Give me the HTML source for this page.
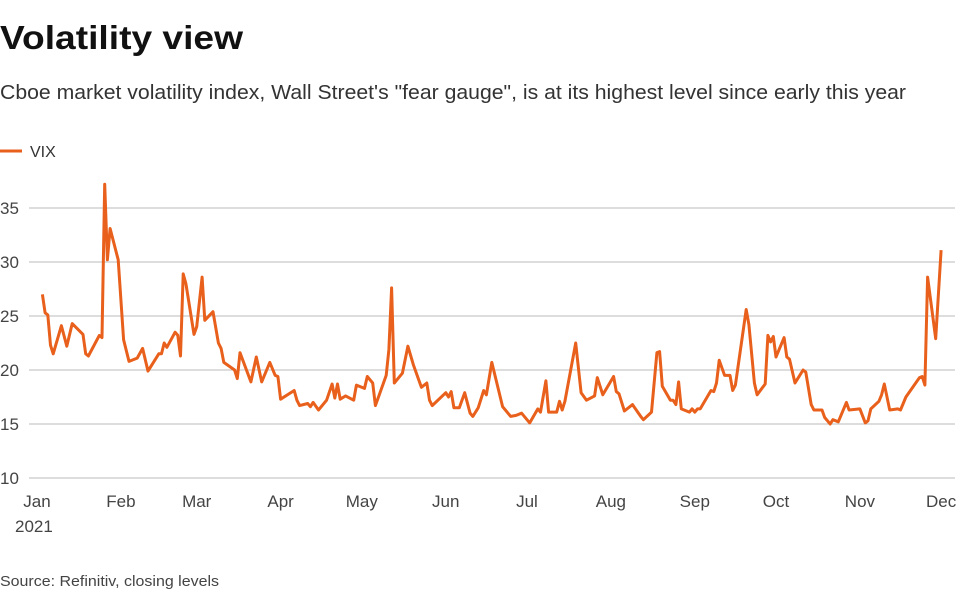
<!DOCTYPE html>
<html><head><meta charset="utf-8"><style>
html,body{margin:0;padding:0;background:#fff;}
svg{display:block;font-family:"Liberation Sans",sans-serif;}
</style></head><body>
<svg id="chart" width="960" height="596" viewBox="0 0 960 596" xmlns="http://www.w3.org/2000/svg">
<text x="0" y="49" font-size="33" font-weight="bold" fill="#111" textLength="243" lengthAdjust="spacingAndGlyphs">Volatility view</text>
<text x="0" y="99" font-size="20" fill="#333" textLength="906" lengthAdjust="spacingAndGlyphs">Cboe market volatility index, Wall Street's "fear gauge", is at its highest level since early this year</text>
<g>
<line x1="0" y1="151" x2="22" y2="151" stroke="#e8601c" stroke-width="3"/>
<text x="30" y="157" font-size="16" fill="#333">VIX</text>
</g>
<g id="grid"></g>
<g id="axes"></g>
<path id="line" fill="none" stroke="#e8601c" stroke-width="3" stroke-linejoin="round"/>
<text x="0" y="586" font-size="15" fill="#444" textLength="219" lengthAdjust="spacingAndGlyphs">Source: Refinitiv, closing levels</text>
</svg>
<script>
const days=[2,3,4,5,6,9,11,13,17,18,19,23,24,25,26,27,30,32,34,37,39,41,45,46,47,48,51,52,53,54,55,58,59,61,62,65,67,68,69,73,74,75,79,81,83,86,88,89,90,95,96,97,100,101,102,104,107,109,110,111,112,114,117,118,121,122,124,125,129,130,131,132,135,137,139,142,144,145,146,151,152,153,154,156,158,160,161,163,165,166,168,172,175,177,179,182,185,186,188,189,192,193,194,195,199,201,203,206,207,209,213,214,215,217,220,223,224,227,229,230,231,234,235,236,237,238,241,242,243,244,245,249,250,251,252,254,256,257,258,262,263,265,266,269,270,271,272,273,276,277,278,280,283,284,286,287,290,291,293,294,296,299,300,304,306,307,308,311,312,313,315,318,319,321,326,327,328,329,332,334];
const values=[27.0,25.3,25.1,22.3,21.5,24.1,22.2,24.3,23.3,21.5,21.3,23.2,23.0,37.2,30.2,33.1,30.2,22.8,20.8,21.1,22.0,19.9,21.5,21.5,22.5,22.1,23.5,23.2,21.3,28.9,28.0,23.3,24.0,28.6,24.6,25.4,22.5,22.0,20.7,20.0,19.2,21.6,18.9,21.2,18.9,20.7,19.5,19.4,17.3,18.1,17.2,16.7,16.9,16.6,17.0,16.3,17.2,18.7,17.4,18.7,17.3,17.6,17.2,18.6,18.3,19.4,18.8,16.7,19.5,21.9,27.6,18.8,19.7,22.2,20.5,18.4,18.8,17.2,16.7,17.9,17.5,18.0,16.5,16.5,17.9,16.0,15.7,16.5,18.1,17.7,20.7,16.6,15.7,15.8,16.0,15.1,16.4,16.1,19.0,16.1,16.1,17.1,16.3,17.1,22.5,17.9,17.2,17.6,19.3,17.7,19.4,18.0,17.8,16.2,16.8,15.7,15.4,16.1,21.6,21.7,18.5,17.2,17.2,16.8,18.9,16.4,16.1,16.4,16.1,16.4,16.4,18.1,18.0,18.8,20.9,19.5,19.5,18.1,18.6,25.6,24.2,18.8,17.7,18.7,23.2,22.6,23.1,21.2,23.0,21.2,21.0,18.8,20.0,19.8,16.8,16.3,16.3,15.6,15.0,15.4,15.2,17.0,16.3,16.4,15.1,15.3,16.4,17.1,17.7,18.7,16.3,16.4,16.3,17.5,19.3,19.4,18.6,28.6,22.9,31.1];
const yTicks=[10,15,20,25,30,35];
const monthLabels=["Jan","Feb","Mar","Apr","May","Jun","Jul","Aug","Sep","Oct","Nov","Dec"];
const monthDays=[0,31,59,90,120,151,181,212,243,273,304,334];

const NS="http://www.w3.org/2000/svg";
const xS=d=>37+d*2.707;
const yS=v=>478-(v-10)*10.8;
const grid=document.getElementById('grid'),axes=document.getElementById('axes');
yTicks.forEach(t=>{
  const l=document.createElementNS(NS,'line');
  l.setAttribute('x1',29);l.setAttribute('x2',955);
  l.setAttribute('y1',yS(t));l.setAttribute('y2',yS(t));
  l.setAttribute('stroke','#bbb');l.setAttribute('stroke-width',1);
  
  
  grid.appendChild(l);
  const tx=document.createElementNS(NS,'text');
  tx.setAttribute('x',0);tx.setAttribute('y',yS(t)+6);
  tx.setAttribute('font-size','17');tx.setAttribute('fill','#444');
  tx.textContent=t;
  
  
  axes.appendChild(tx);
});
monthLabels.forEach((m,i)=>{
  const x=xS(monthDays[i]);
  const tx=document.createElementNS(NS,'text');
  tx.setAttribute('x',x);tx.setAttribute('y',507);tx.setAttribute('text-anchor','middle');
  tx.setAttribute('font-size','17');tx.setAttribute('fill','#444');
  tx.textContent=m;
  
  
  axes.appendChild(tx);
});
const yr=document.createElementNS(NS,'text');
yr.setAttribute('x',15);yr.setAttribute('y',532);yr.setAttribute('font-size','17');yr.setAttribute('fill','#444');
yr.textContent='2021';


axes.appendChild(yr);
document.getElementById('line').setAttribute('d',days.map((d,i)=>(i?'L':'M')+xS(d).toFixed(1)+','+yS(values[i]).toFixed(1)).join(''));
</script>
</body></html>
